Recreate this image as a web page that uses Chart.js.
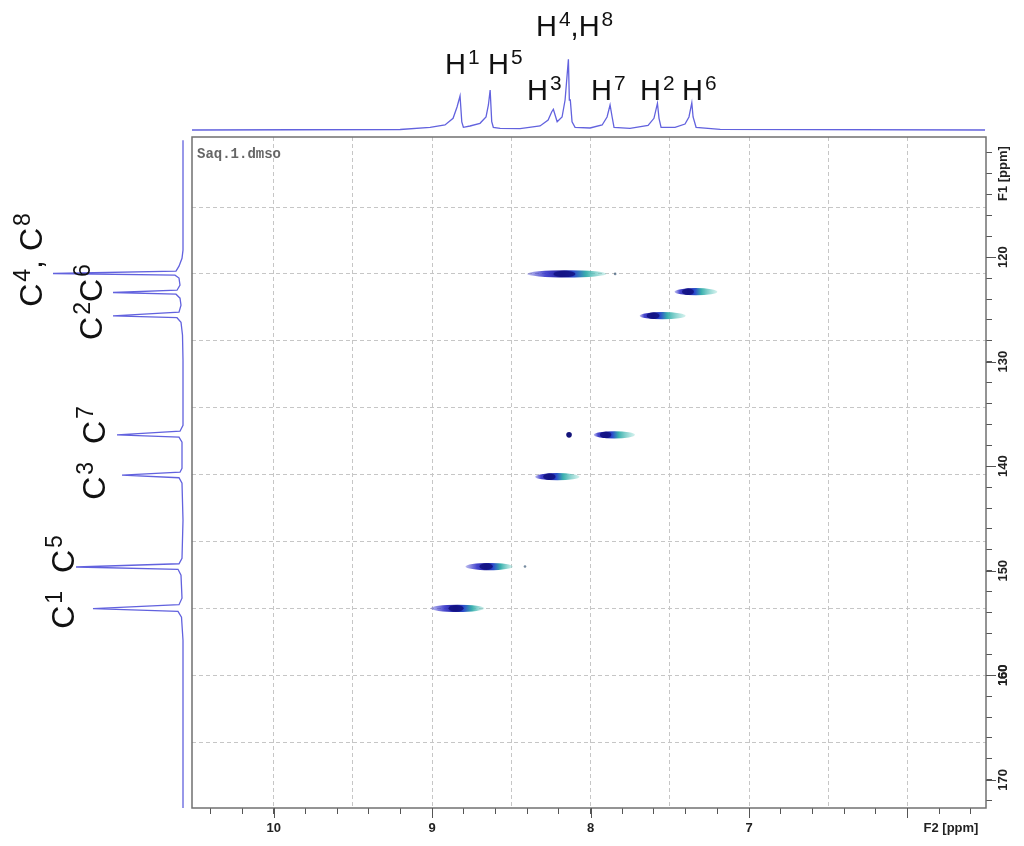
<!DOCTYPE html>
<html>
<head>
<meta charset="utf-8">
<script src="https://cdn.jsdelivr.net/npm/chart.js@4.4.1/dist/chart.umd.min.js"></script>
<style>
  body { margin: 0; background: #fff; }
  #wrap { position: relative; width: 1024px; height: 846px; overflow: hidden; }
  canvas { position: absolute; left: 0; top: 0; }
  .lbl { position: absolute; font-family: "Liberation Sans", Arial, sans-serif; color: #111; line-height: 1; white-space: nowrap; }
  .lbl span { font-size: 0.72em; position: relative; top: -0.5em; margin-left: 2px; }
  .h { font-size: 29px; }
  .c { font-size: 32px; transform: translate(-50%, -50%) rotate(-90deg); }
  .tag { position: absolute; left: 197px; top: 146px; font: bold 14px "Liberation Mono", "Courier New", monospace; color: #666; }
</style>
</head>
<body>
<div id="wrap">
  <canvas id="main" width="1024" height="846"></canvas>
  <canvas id="top" width="1024" height="137"></canvas>
  <canvas id="left" width="190" height="846"></canvas>

  <div class="tag">Saq.1.dmso</div>

  <div class="lbl h" style="left:445px; top:50px;">H<span>1</span></div>
  <div class="lbl h" style="left:488px; top:50px;">H<span>5</span></div>
  <div class="lbl h" style="left:527px; top:76px;">H<span>3</span></div>
  <div class="lbl h" style="left:536px; top:12px;">H<span>4</span>,H<span>8</span></div>
  <div class="lbl h" style="left:591px; top:76px;">H<span>7</span></div>
  <div class="lbl h" style="left:640px; top:76px;">H<span>2</span></div>
  <div class="lbl h" style="left:682px; top:76px;">H<span>6</span></div>

  <div class="lbl c" style="left:31px; top:260px;">C<span>4</span>, C<span>8</span></div>
  <div class="lbl c" style="left:91px; top:302px;">C<span>2</span>C<span>6</span></div>
  <div class="lbl c" style="left:94px; top:453px;">C<span>3</span>&nbsp; C<span>7</span></div>
  <div class="lbl c" style="left:63px; top:582px;">C<span>1</span>&nbsp; C<span>5</span></div>
</div>

<script>
// axis ranges (ppm)
const xMin = 5.504, xMax = 10.516;   // F2 (1H)
const yMin = 108.5, yMax = 172.7;    // F1 (13C)

// tick labels
const xTickLabels = [10, 9, 8, 7];
const xMajorTicks = [10, 9, 8, 7, 6];
const yTickLabels = [120, 130, 140, 150, 160, 170];
const yGridLines = [115.2, 121.6, 128.0, 134.4, 140.8, 147.2, 153.6, 160.0, 166.4];
const xTitlePos = 5.725;
const yTitlePos = 112;

// HSQC cross peaks: 1H centre, 13C shift, contour extent in 1H
const hsqcH    = [8.14, 7.36, 7.58, 7.88, 8.235, 8.634, 8.824];
const hsqcC    = [121.6, 123.3, 125.6, 137.0, 141.0, 149.6, 153.6];
const hsqcFrom = [8.40, 7.47, 7.69, 7.98, 8.35, 8.79, 9.01];
const hsqcTo   = [7.90, 7.20, 7.40, 7.72, 8.07, 8.49, 8.67];

// isolated small contours
const dotH = [8.136, 7.845, 8.414];
const dotC = [137.0, 121.6, 149.6];

// 1H projection [ppm, intensity]
const topTrace = [
  [10.516,0],[9.202,0.5],[9.013,2.7],[8.919,5],[8.868,11.7],[8.843,23],[8.824,34],[8.813,8],[8.803,2.7],
  [8.761,4],[8.698,6.7],[8.660,13],[8.645,25],[8.634,40],[8.624,8.3],[8.614,2.7],[8.571,1.7],[8.445,1.3],
  [8.319,4],[8.268,10],[8.245,18.3],[8.235,20.7],[8.224,15],[8.211,8.3],[8.180,13],[8.161,30],[8.140,70.7],
  [8.134,30],[8.128,30],[8.117,8.3],[8.098,2.7],[8.003,2],[7.927,5],[7.896,13],[7.877,25],[7.864,13],
  [7.852,2.7],[7.751,1.7],[7.637,4.7],[7.600,11.7],[7.578,26.7],[7.568,11.7],[7.555,2.7],[7.467,2.7],
  [7.404,6],[7.379,13],[7.361,27.3],[7.353,13],[7.334,2.7],[7.182,0.7],[5.51,0]
];

// 13C projection [intensity, ppm]
const leftTrace = [
  [0,108.8],[0,119.33],[1,120.1],[4,120.86],[7,121.34],[130,121.56],[8,121.72],[4,122.0],[3,122.68],
  [6,123.16],[70,123.38],[7,123.54],[3,123.92],[2,124.59],[4,125.26],[70,125.62],[6,125.79],[2,126.22],
  [0.5,127.46],[0,129.86],[0,136.08],[3,136.65],[66,137.0],[4,137.22],[1,137.7],[1,140.2],[3,140.57],
  [61,140.86],[4,141.1],[1,141.63],[0,145.17],[1,148.8],[4,149.33],[107,149.64],[5,149.86],[2,150.43],
  [1,152.63],[4,153.25],[90,153.62],[5,153.88],[1.5,154.45],[0,156.65],[0,172.7]
];

const specColor = 'rgb(98,98,222)';
const tickFont = { family: '"Liberation Sans", Arial, sans-serif', size: 13, weight: 'bold' };

function near(a, b) { return Math.abs(a - b) < 1e-6; }

let xTickValues = [];
for (let k = 56; k <= 105; k++) xTickValues.push(k / 10);
xTickValues.push(xTitlePos);

let yTickValues = [];
for (let v = 110; v <= 172; v += 2) yTickValues.push(v);
yTickValues = yTickValues.concat(yGridLines);

function isXGrid(v) { let k = Math.round(v * 10); return near(v * 10, k) && k % 5 === 0 && k >= 60 && k <= 100; }
function isXTick(v) { let k = Math.round(v * 10); return near(v * 10, k) && k % 2 === 0; }
function isYGrid(v) { return yGridLines.some(g => near(g, v)); }
function isYTick(v) { return !isYGrid(v) || Number.isInteger(v) && v % 2 === 0; }

const crossPeaks = {
  id: 'crossPeaks',
  afterDatasetsDraw(chart) {
    const { ctx, chartArea: a, scales: { x, y } } = chart;
    ctx.save();
    ctx.beginPath();
    ctx.rect(a.left, a.top, a.width, a.height);
    ctx.clip();
    for (let i = 0; i < hsqcH.length; i++) {
      const x0 = x.getPixelForValue(hsqcFrom[i]);
      const x1 = x.getPixelForValue(hsqcTo[i]);
      const xc = x.getPixelForValue(hsqcH[i]);
      const yc = y.getPixelForValue(hsqcC[i]);
      const f = (xc - x0) / (x1 - x0);
      const g = ctx.createLinearGradient(x0, 0, x1, 0);
      g.addColorStop(0, 'rgba(70,70,210,0.35)');
      g.addColorStop(Math.max(0.05, f - 0.28), 'rgba(50,50,200,0.9)');
      g.addColorStop(f - 0.08, '#1c1c98');
      g.addColorStop(f + 0.06, '#2a48cc');
      g.addColorStop(Math.min(0.9, f + 0.22), '#3bb0ae');
      g.addColorStop(1, 'rgba(130,215,205,0.35)');
      ctx.fillStyle = g;
      ctx.beginPath();
      ctx.ellipse((x0 + x1) / 2, yc, (x1 - x0) / 2, 3.6, 0, 0, Math.PI * 2);
      ctx.fill();
      // dark core
      ctx.fillStyle = 'rgba(18,18,130,0.85)';
      ctx.beginPath();
      ctx.ellipse(xc - 4, yc, (x1 - x0) * 0.14, 3.2, 0, 0, Math.PI * 2);
      ctx.fill();
    }
    ctx.restore();
  }
};

const frame = {
  id: 'frame',
  afterDraw(chart) {
    const { ctx, chartArea: a, scales: { x, y } } = chart;
    ctx.save();
    ctx.strokeStyle = '#707070';
    ctx.lineWidth = 1.5;
    ctx.strokeRect(a.left, a.top, a.width, a.height);
    // longer marks at the labelled ticks
    ctx.strokeStyle = '#555';
    ctx.lineWidth = 1;
    ctx.beginPath();
    xMajorTicks.forEach(v => {
      const px = Math.round(x.getPixelForValue(v)) + 0.5;
      ctx.moveTo(px, a.bottom); ctx.lineTo(px, a.bottom + 10);
    });
    yTickLabels.forEach(v => {
      const py = Math.round(y.getPixelForValue(v)) + 0.5;
      ctx.moveTo(a.right, py); ctx.lineTo(a.right + 10, py);
    });
    ctx.stroke();
    // F1 axis title
    ctx.translate(a.right + 17, y.getPixelForValue(yTitlePos));
    ctx.rotate(-Math.PI / 2);
    ctx.font = 'bold 13px "Liberation Sans", Arial, sans-serif';
    ctx.fillStyle = '#222';
    ctx.textAlign = 'center';
    ctx.textBaseline = 'middle';
    ctx.fillText('F1 [ppm]', 0, 0);
    ctx.restore();
  }
};

new Chart(document.getElementById('main'), {
  type: 'scatter',
  data: {
    datasets: [
      {
        label: 'cross peaks',
        data: hsqcH.map((h, i) => ({ x: h, y: hsqcC[i] })),
        pointRadius: 0
      },
      {
        label: 'small contours',
        data: dotH.map((h, i) => ({ x: h, y: dotC[i] })),
        pointRadius: ctx => ctx.dataIndex === 0 ? 2.8 : 1.3,
        backgroundColor: ctx => ctx.dataIndex === 0 ? '#14147a' : 'rgba(60,90,120,0.7)',
        borderWidth: 0
      }
    ]
  },
  options: {
    responsive: false,
    animation: false,
    layout: { padding: { left: 192, top: 137, right: 0, bottom: 0 } },
    plugins: { legend: { display: false }, tooltip: { enabled: false } },
    scales: {
      x: {
        type: 'linear', position: 'bottom', reverse: true, min: xMin, max: xMax,
        afterBuildTicks: s => { s.ticks = xTickValues.map(v => ({ value: v })); },
        afterFit: s => { s.height = 38; },
        grid: {
          color: c => isXGrid(c.tick.value) ? '#c6c6c6' : 'rgba(0,0,0,0)',
          tickColor: c => isXTick(c.tick.value) ? '#555' : 'rgba(0,0,0,0)',
          tickLength: 6,
          lineWidth: 1
        },
        border: { display: false, dash: [4, 3] },
        ticks: {
          autoSkip: false, maxRotation: 0, minRotation: 0, padding: 7,
          color: '#222', font: tickFont,
          callback: v => near(v, xTitlePos) ? 'F2 [ppm]' : (xTickLabels.some(t => near(t, v)) ? String(Math.round(v)) : '')
        }
      },
      y: {
        type: 'linear', position: 'right', reverse: true, min: yMin, max: yMax,
        afterBuildTicks: s => { s.ticks = yTickValues.map(v => ({ value: v })); },
        afterFit: s => { s.width = 38; },
        grid: {
          color: c => isYGrid(c.tick.value) ? '#c6c6c6' : 'rgba(0,0,0,0)',
          tickColor: c => isYTick(c.tick.value) ? '#555' : 'rgba(0,0,0,0)',
          tickLength: 6,
          lineWidth: 1
        },
        border: { display: false, dash: [4, 3] },
        ticks: {
          autoSkip: false, minRotation: 90, maxRotation: 90, crossAlign: 'center', padding: 1,
          color: '#222', font: tickFont,
          callback: v => yTickLabels.some(t => near(t, v)) ? String(v) : ''
        }
      }
    }
  },
  plugins: [crossPeaks, frame]
});

// 1H projection on top
new Chart(document.getElementById('top'), {
  type: 'scatter',
  data: {
    datasets: [{
      data: topTrace.map(p => ({ x: p[0], y: p[1] })),
      showLine: true, pointRadius: 0, borderColor: specColor, borderWidth: 1.3, clip: false
    }]
  },
  options: {
    responsive: false,
    animation: false,
    layout: { padding: { left: 192, right: 38, top: 0, bottom: 7 } },
    plugins: { legend: { display: false }, tooltip: { enabled: false } },
    scales: {
      x: { type: 'linear', reverse: true, min: xMin, max: xMax, display: false },
      y: { type: 'linear', min: 0, max: 130, display: false }
    }
  }
});

// 13C projection on the left
new Chart(document.getElementById('left'), {
  type: 'scatter',
  data: {
    datasets: [{
      data: leftTrace.map(p => ({ x: p[0], y: p[1] })),
      showLine: true, pointRadius: 0, borderColor: specColor, borderWidth: 1.3, clip: false
    }]
  },
  options: {
    responsive: false,
    animation: false,
    layout: { padding: { left: 0, right: 7, top: 137, bottom: 38 } },
    plugins: { legend: { display: false }, tooltip: { enabled: false } },
    scales: {
      x: { type: 'linear', reverse: true, min: 0, max: 183, display: false },
      y: { type: 'linear', reverse: true, min: yMin, max: yMax, display: false }
    }
  }
});
</script>
</body>
</html>
